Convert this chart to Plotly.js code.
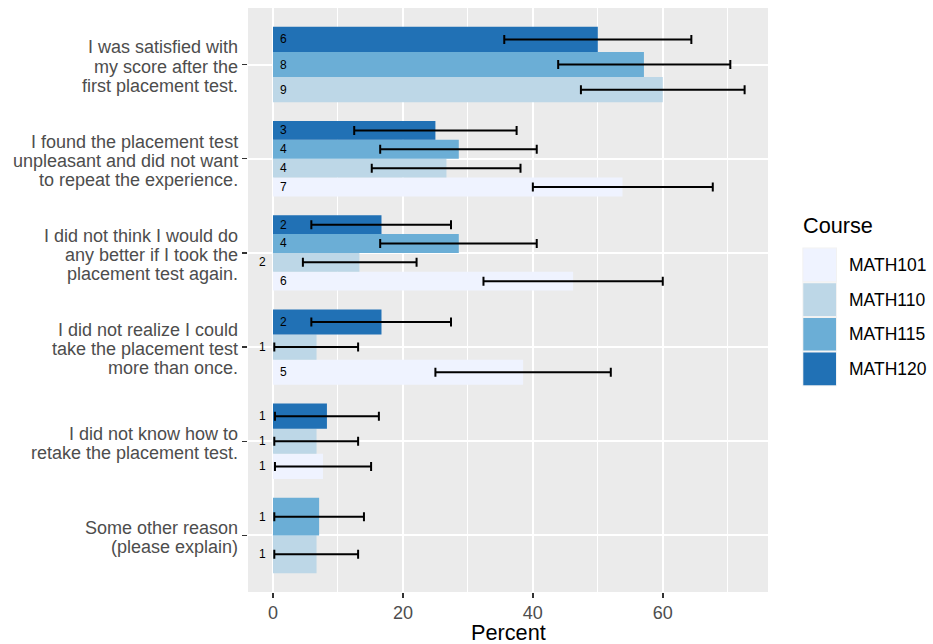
<!DOCTYPE html>
<html>
<head>
<meta charset="utf-8">
<script src="https://cdn.plot.ly/plotly-3.0.1.min.js"></script>
<style>html,body{margin:0;padding:0;background:#fff;}#chart{width:933px;height:644px;}</style>
</head>
<body>
<div id="chart"></div>
<script>
// ---- data ----
const categories = [
  "I was satisfied with<br>my score after the<br>first placement test.",
  "I found the placement test<br>unpleasant and did not want<br>to repeat the experience.",
  "I did not think I would do<br>any better if I took the<br>placement test again.",
  "I did not realize I could<br>take the placement test<br>more than once.",
  "I did not know how to<br>retake the placement test.",
  "Some other reason<br>(please explain)"
];
const courses = ["MATH101", "MATH110", "MATH115", "MATH120"];
const courseColors = ["#EFF3FF", "#BDD7E7", "#6BAED6", "#2171B5"];

const pctMATH101 = [null, 53.8, 46.2, 38.5, 7.7, null];
const pctMATH110 = [60.0, 26.7, 13.3, 6.7, 6.7, 6.7];
const pctMATH115 = [57.1, 28.6, 28.6, null, null, 7.1];
const pctMATH120 = [50.0, 25.0, 16.7, 16.7, 8.3, null];

const countMATH101 = [null, 7, 6, 5, 1, null];
const countMATH110 = [9, 4, 2, 1, 1, 1];
const countMATH115 = [8, 4, 4, null, null, 1];
const countMATH120 = [6, 3, 2, 2, 1, null];

const lowMATH101 = [null, 40.0, 32.4, 25.0, 0.3, null];
const highMATH101 = [null, 67.7, 60.0, 52.0, 15.1, null];
const lowMATH110 = [47.4, 15.2, 4.6, 0.2, 0.2, 0.2];
const highMATH110 = [72.6, 38.1, 22.1, 13.1, 13.1, 13.1];
const lowMATH115 = [43.9, 16.5, 16.5, null, null, 0.2];
const highMATH115 = [70.4, 40.6, 40.6, null, null, 14.0];
const lowMATH120 = [35.6, 12.5, 5.9, 5.9, 0.3, null];
const highMATH120 = [64.4, 37.5, 27.4, 27.4, 16.3, null];

const xTickVals = [0, 20, 40, 60];
const xTitle = "Percent";
const legendTitle = "Course";

// ---- build ----
const pct = {MATH101: pctMATH101, MATH110: pctMATH110, MATH115: pctMATH115, MATH120: pctMATH120};
const cnt = {MATH101: countMATH101, MATH110: countMATH110, MATH115: countMATH115, MATH120: countMATH120};
const lo = {MATH101: lowMATH101, MATH110: lowMATH110, MATH115: lowMATH115, MATH120: lowMATH120};
const hi = {MATH101: highMATH101, MATH110: highMATH110, MATH115: highMATH115, MATH120: highMATH120};

const dodgeOrder = courses.slice().reverse(); // top to bottom within a category
const DODGE = 0.8;
const FONT = "Liberation Sans, Arial, Helvetica, sans-serif";

const traces = [];
const annotations = [];
courses.forEach((c, ci) => {
  const xs = [], ys = [], ws = [], ep = [], em = [];
  categories.forEach((cat, j) => {
    const v = pct[c][j];
    if (v == null) return;
    const present = dodgeOrder.filter(cc => pct[cc][j] != null);
    const n = present.length, k = present.indexOf(c);
    const w = DODGE / n;
    const y = j - DODGE / 2 + (k + 0.5) * w;
    xs.push(v); ys.push(y); ws.push(w);
    ep.push(hi[c][j] - v); em.push(v - lo[c][j]);
    const inside = v > 15;
    annotations.push({
      x: 0, y: y, xref: 'x', yref: 'y', text: String(cnt[c][j]),
      showarrow: false, xanchor: 'center', yanchor: 'middle',
      xshift: inside ? 10 : -10.5,
      font: {family: FONT, size: 12, color: '#000000'}
    });
  });
  traces.push({
    type: 'bar', orientation: 'h', name: c, x: xs, y: ys, width: ws,
    marker: {color: courseColors[ci], line: {width: 0}},
    error_x: {type: 'data', symmetric: false, array: ep, arrayminus: em,
              color: '#000000', thickness: 2, width: 4.5},
    showlegend: false, hoverinfo: 'skip'
  });
});

// category labels (y axis text), one line at a time for ggplot-like line spacing
const LINE_H = 19.2;
categories.forEach((cat, j) => {
  const lines = cat.split('<br>');
  lines.forEach((ln, l) => {
    annotations.push({
      xref: 'paper', yref: 'y', x: 0, y: j, text: ln, showarrow: false,
      xanchor: 'right', yanchor: 'middle', xshift: -8.5,
      yshift: -(2 + (l - (lines.length - 1) / 2) * LINE_H),
      font: {family: FONT, size: 18, color: '#4D4D4D'}
    });
  });
});

// legend drawn in paper space
const L = 248, R = 768, T = 8, B = 592;
const px2x = p => (p - L) / (R - L);
const py2y = p => (B - p) / (B - T);
const shapes = [];
const keyTop = 247.5, keySize = 34.7, keyX0 = 802.3;
courses.forEach((c, i) => {
  const t = keyTop + i * keySize, b = t + keySize;
  shapes.push({type: 'rect', xref: 'paper', yref: 'paper', layer: 'above',
    x0: px2x(keyX0), x1: px2x(keyX0 + keySize), y0: py2y(b), y1: py2y(t),
    fillcolor: '#F2F2F2', line: {width: 0}});
  shapes.push({type: 'rect', xref: 'paper', yref: 'paper', layer: 'above',
    x0: px2x(keyX0 + 1), x1: px2x(keyX0 + keySize - 1), y0: py2y(b - 1), y1: py2y(t + 1),
    fillcolor: courseColors[i], line: {width: 0}});
  annotations.push({xref: 'paper', yref: 'paper', x: px2x(847), y: py2y((t + b) / 2),
    text: c, showarrow: false, xanchor: 'left', yanchor: 'middle',
    font: {family: FONT, size: 17.5, color: '#000000'}});
});
annotations.push({xref: 'paper', yref: 'paper', x: px2x(801), y: py2y(225.5),
  text: legendTitle, showarrow: false, xanchor: 'left', yanchor: 'middle',
  font: {family: FONT, size: 21.7, color: '#000000'}});
// x axis title
annotations.push({xref: 'paper', yref: 'paper', x: 0.5, y: py2y(645.5), borderpad: 0,
  text: xTitle, showarrow: false, xanchor: 'center', yanchor: 'bottom',
  font: {family: FONT, size: 21.7, color: '#000000'}});

const layout = {
  width: 933, height: 644, autosize: false,
  margin: {l: L, r: 933 - R, t: T, b: 644 - B, pad: 0},
  paper_bgcolor: '#FFFFFF', plot_bgcolor: '#EBEBEB',
  barmode: 'overlay', showlegend: false,
  font: {family: FONT},
  xaxis: {
    range: [-3.85, 76.2], tickvals: xTickVals, ticktext: xTickVals.map(String),
    showgrid: true, gridcolor: '#FFFFFF', gridwidth: 2, zeroline: false,
    ticks: 'outside', ticklen: 5, tickwidth: 1.5, tickcolor: '#333333',
    ticklabelstandoff: -1,
    tickfont: {family: FONT, size: 18, color: '#4D4D4D'},
    minor: {tickvals: [10, 30, 50, 70], showgrid: true, gridcolor: '#FFFFFF', gridwidth: 1, ticks: ''},
    showline: false, automargin: false
  },
  yaxis: {
    range: [5.6, -0.6], tickvals: categories.map((c, i) => i),
    showticklabels: false,
    showgrid: true, gridcolor: '#FFFFFF', gridwidth: 2, zeroline: false,
    ticks: 'outside', ticklen: 5, tickwidth: 1.5, tickcolor: '#333333',
    showline: false, automargin: false
  },
  shapes: shapes,
  annotations: annotations
};

Plotly.newPlot('chart', traces, layout, {staticPlot: true, displayModeBar: false});
</script>
</body>
</html>
